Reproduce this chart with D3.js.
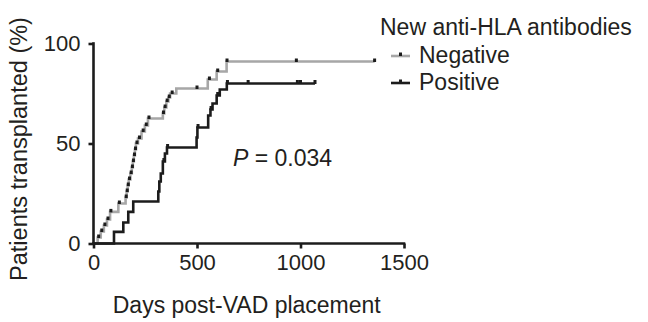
<!DOCTYPE html>
<html>
<head>
<meta charset="utf-8">
<script src="https://cdn.jsdelivr.net/npm/d3@7"></script>
<style>
body{margin:0;background:#fff}
text{font-family:"Liberation Sans",Arial,sans-serif;fill:#231f20}
</style>
</head>
<body>
<div id="chart"></div>
<script>
// tick labels
var xTicks = [0, 500, 1000, 1500];
var yTicks = [0, 50, 100];

// Negative group: days at which the curve steps, and the new % after the step
var negDays = [0, 20, 35, 50, 65, 80, 120, 155, 160, 165, 170, 178, 185, 190, 195, 200, 205, 215, 232, 248, 263, 335, 342, 352, 362, 370, 400, 552, 595, 643];
var negPct  = [0, 3, 6, 9, 12, 15.8, 20, 23, 26, 29, 32, 35, 38, 41, 44, 47, 50, 52.5, 56, 59, 62.5, 65, 68, 71, 73, 75, 77.5, 82, 86, 91];
var negEnd = 1358;
var negMarks = [25, 40, 55, 70, 84, 125, 158, 163, 168, 174, 182, 188, 193, 198, 203, 210, 222, 240, 255, 268, 338, 346, 356, 366, 380, 500, 560, 600, 645, 980, 1358];

// Positive group
var posDays = [0, 99, 144, 168, 192, 313, 318, 325, 335, 345, 355, 498, 502, 554, 565, 575, 595, 610, 644];
var posPct  = [0, 5.8, 10.5, 15.8, 21, 26, 31, 35, 41, 45, 48, 53, 58, 64, 67, 70, 74, 77, 80];
var posEnd = 1070;
var posMarks = [340, 358, 505, 568, 600, 647, 747, 985, 1000, 1070];

var W = 648, H = 322;
var svg = d3.select("#chart").append("svg")
	.attr("width", W)
	.attr("height", H);

var x = d3.scaleLinear().domain([0, 1500]).range([93.5, 404]);
var y = d3.scaleLinear().domain([0, 100]).range([243.5, 43.5]);

var grey = "#a7a7a7", dark = "#1c1c1c";

// curves
function stepPoints(days, pct, end) {
	var pts = days.map(function(d, i){ return [d, pct[i]]; });
	pts.push([end, pct[pct.length - 1]]);
	return pts;
}
function levelAt(days, pct, d) {
	var i = d3.bisectRight(days, d) - 1;
	return pct[Math.max(i, 0)];
}

var line = d3.line()
	.x(function(d){ return x(d[0]); })
	.y(function(d){ return y(d[1]); })
	.curve(d3.curveStepAfter);

svg.append("path")
	.datum(stepPoints(negDays, negPct, negEnd))
	.attr("d", line)
	.attr("fill", "none")
	.attr("stroke", grey)
	.attr("stroke-width", 2.6);

svg.append("path")
	.datum(stepPoints(posDays, posPct, posEnd))
	.attr("d", line)
	.attr("fill", "none")
	.attr("stroke", dark)
	.attr("stroke-width", 2.6);

// censor marks
svg.selectAll("rect.neg")
	.data(negMarks)
	.enter().append("rect")
	.attr("class", "neg")
	.attr("x", function(d){ return x(d) - 1.5; })
	.attr("y", function(d){ return y(levelAt(negDays, negPct, d)) - 3; })
	.attr("width", 3)
	.attr("height", 3.5)
	.attr("fill", dark);

svg.selectAll("rect.pos")
	.data(posMarks)
	.enter().append("rect")
	.attr("class", "pos")
	.attr("x", function(d){ return x(d) - 1.5; })
	.attr("y", function(d){ return y(levelAt(posDays, posPct, d)) - 3.5; })
	.attr("width", 3)
	.attr("height", 4)
	.attr("fill", dark);

// axes
var xAxis = svg.append("g")
	.attr("transform", "translate(0," + y(0) + ")")
	.call(d3.axisBottom(x).tickValues(xTicks).tickFormat(d3.format("d"))
		.tickSize(5).tickPadding(6).tickSizeOuter(0));
var yAxis = svg.append("g")
	.attr("transform", "translate(" + x(0) + ",0)")
	.call(d3.axisLeft(y).tickValues(yTicks).tickFormat(d3.format("d"))
		.tickSize(5).tickPadding(8).tickSizeOuter(0));

[xAxis, yAxis].forEach(function(g){
	g.select(".domain").attr("stroke", dark).attr("stroke-width", 2.6);
	g.selectAll(".tick line").attr("stroke", dark).attr("stroke-width", 2.6);
	g.selectAll(".tick text")
		.attr("font-family", null)
		.style("font-size", "22px")
		.attr("fill", "#231f20");
});
// cover small overhang where axes meet
xAxis.select(".domain").attr("d", "M" + (x(0) - 1.3) + ",0H" + (x(1500) + 1.3));
yAxis.select(".domain").attr("d", "M0," + (y(0) + 1.3) + "V" + (y(100) - 1.3));

// axis titles
svg.append("text")
	.attr("x", (x(0) + x(1500)) / 2 - 2)
	.attr("y", 313)
	.attr("text-anchor", "middle")
	.style("font-size", "23px")
	.text("Days post-VAD placement");

svg.append("text")
	.attr("transform", "translate(27,149) rotate(-90)")
	.attr("text-anchor", "middle")
	.style("font-size", "23.5px")
	.text("Patients transplanted (%)");

// p-value
var pv = svg.append("text")
	.attr("x", 233)
	.attr("y", 166)
	.style("font-size", "23px");
pv.append("tspan").style("font-style", "italic").text("P");
pv.append("tspan").text(" = 0.034");

// legend
var lg = svg.append("g");
lg.append("text")
	.attr("x", 380)
	.attr("y", 35)
	.style("font-size", "23px")
	.text("New anti-HLA antibodies");

var legendItems = [
	{label: "Negative", color: grey, yy: 63},
	{label: "Positive", color: dark, yy: 90}
];
legendItems.forEach(function(it){
	lg.append("line")
		.attr("x1", 391).attr("x2", 410)
		.attr("y1", it.yy - 7).attr("y2", it.yy - 7)
		.attr("stroke", it.color)
		.attr("stroke-width", 2.6);
	lg.append("rect")
		.attr("x", 399).attr("y", it.yy - 10.5)
		.attr("width", 3).attr("height", 3.5)
		.attr("fill", dark);
	lg.append("text")
		.attr("x", 419)
		.attr("y", it.yy)
		.style("font-size", "23px")
		.text(it.label);
});
</script>
</body>
</html>
